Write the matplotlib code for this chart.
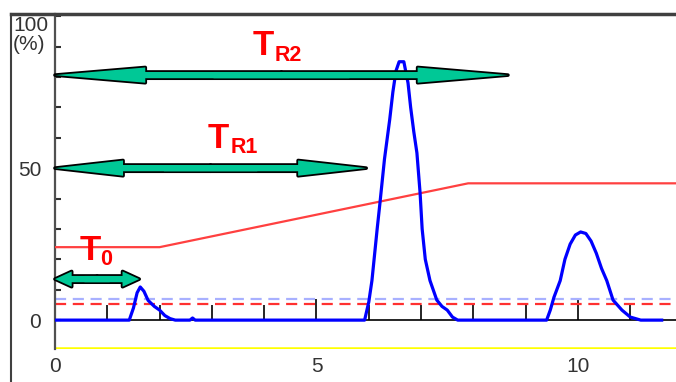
import matplotlib
matplotlib.use("Agg")
import matplotlib.pyplot as plt
from matplotlib.patches import FancyArrowPatch, ArrowStyle
from matplotlib.lines import Line2D

plt.rcParams['font.family'] = ['Liberation Sans', 'DejaVu Sans']

# detector trace (time in min, signal in %)
trace_x = [0, 1.42, 1.5, 1.57, 1.63, 1.7, 1.78, 1.9, 2.0, 2.1, 2.2, 2.3,
           2.58, 2.63, 2.68,
           5.92, 6.0, 6.06, 6.16, 6.21, 6.3, 6.4, 6.46, 6.52, 6.58, 6.67,
           6.75, 6.8, 6.86, 6.92, 6.98, 7.02, 7.08, 7.17, 7.3, 7.4, 7.5, 7.6, 7.7,
           9.4, 9.47, 9.54, 9.66, 9.75, 9.85, 9.95, 10.05, 10.15, 10.25, 10.35,
           10.45, 10.55, 10.67, 10.84, 11.0, 11.2, 11.6]
trace_y = [0, 0, 4, 9, 10.9, 9.5, 6.5, 4.5, 3.3, 1.5, 0.5, 0,
           0, 0.7, 0,
           0, 6, 13, 30, 38, 53, 66, 75, 82, 85, 85,
           78, 70, 62, 55, 42, 30, 20, 13, 6.6, 4.5, 3.3, 1, 0,
           0, 3.3, 7.5, 13, 20, 25, 28, 29, 28.5, 26, 22,
           17, 13, 6.6, 3.3, 1, 0, 0]

# gradient programme
grad_x = [0, 2.0, 7.9, 11.9]
grad_y = [24, 24, 45, 45]

# threshold lines
blue_dash_level = 6.9
red_dash_level = 5.3
yellow_level = -9.2

# time marks on the baseline
mark_x = [1, 2, 3, 4, 5, 6, 7, 8, 9, 10, 11]
mark_h = [5, 5, 5, 5, 6.8, 5, 5, 5, 5, 6.8, 5]

# arrows: start, end, level, head length (pt)
arrow_x0 = [0, 0, 0]
arrow_x1 = [1.61, 5.95, 8.66]
arrow_y = [13.5, 50, 80.6]
arrow_head = [12, 49, 65]

# labels
label_main = ['T', 'T', 'T']
label_sub = ['0', 'R1', 'R2']
label_x = [0.48, 2.91, 3.77]
label_y = [19.7, 56.6, 87.2]
sub_x = [0.86, 3.35, 4.19]
sub_y = [18.1, 55.0, 85.3]

W, H = 676, 382
fig = plt.figure(figsize=(W / 100, H / 100), dpi=100)
ax = fig.add_axes([55 / W, (H - 349) / H, 1 - 55 / W, 335 / H])
ax.set_xlim(0, (W - 55) / 52.3)
ax.set_ylim(-9.5, 100.7)

for s in ['top', 'right', 'bottom']:
    ax.spines[s].set_visible(False)
ax.spines['left'].set_color('#505050')
ax.spines['left'].set_linewidth(1.6)

ax.set_yticks(range(0, 101, 10))
ax.set_yticklabels(['0', '', '', '', '', '50', '', '', '', '', ''])
ax.tick_params(axis='y', direction='in', length=4, width=1.5, color='#303030',
               pad=10, labelsize=15, labelcolor='#333333')
ax.set_xticks([0, 5, 10])
ax.set_xticklabels(['0', '5', '10'])
ax.tick_params(axis='x', length=0, pad=6, labelsize=15, labelcolor='#333333')

fig.text(13 / W, 1 - 16 / H, '100\n(%)', ha='left', va='top', fontsize=15,
         color='#333333', linespacing=1.0)

# outer frame
fig.add_artist(Line2D([11 / W, 11 / W], [0, 1 - 14 / H], transform=fig.transFigure,
                      color='#404040', lw=1.5))
fig.add_artist(Line2D([11 / W, 1], [1 - 14 / H, 1 - 14 / H], transform=fig.transFigure,
                      color='#404040', lw=2.5))

xmax = ax.get_xlim()[1]
ax.plot([0, xmax], [0, 0], color='black', lw=1.2, zorder=2)
ax.vlines(mark_x, 0, mark_h, color='black', lw=1.2, zorder=2)
ax.plot([0, xmax], [yellow_level] * 2, color='#ffff00', lw=1.8, zorder=2)
ax.plot([0, xmax], [blue_dash_level] * 2, color='#a8b0ff', lw=1.6,
        dashes=(5, 3), zorder=2)
ax.plot([0, xmax], [red_dash_level] * 2, color='#ff3030', lw=1.6,
        dashes=(5, 3), zorder=2)
ax.plot(grad_x, grad_y, color='#ff4040', lw=1.6, zorder=3)
ax.plot(trace_x, trace_y, color='#0000ff', lw=2.3, zorder=4)

green = '#00c896'
for x0, x1, y, hl in zip(arrow_x0, arrow_x1, arrow_y, arrow_head):
    xm = (x0 + x1) / 2
    overlap = 0.15 * (x1 - x0)
    style = ArrowStyle.Simple(head_length=hl, head_width=11, tail_width=4.5)
    # outlined pass, then a fill-only pass that hides the seam in the middle
    for end in (x0, x1):
        ax.add_patch(FancyArrowPatch((xm, y), (end, y), arrowstyle=style,
                                     mutation_scale=1, shrinkA=0, shrinkB=0,
                                     fc=green, ec='black', lw=2.6, zorder=5,
                                     clip_on=False))
    for start, end in ((xm + overlap, x0), (xm - overlap, x1)):
        ax.add_patch(FancyArrowPatch((start, y), (end, y), arrowstyle=style,
                                     mutation_scale=1, shrinkA=0, shrinkB=0,
                                     fc=green, ec='none', lw=0, zorder=6,
                                     clip_on=False))

for m, s, lx, ly, sx, sy in zip(label_main, label_sub, label_x, label_y, sub_x, sub_y):
    ax.text(lx, ly, m, color='#ff0000', fontsize=25, fontweight='bold',
            ha='left', va='baseline', zorder=7)
    ax.text(sx, sy, s, color='#ff0000', fontsize=15.5, fontweight='bold',
            ha='left', va='baseline', zorder=7)

fig.savefig('out.png', dpi=100)
